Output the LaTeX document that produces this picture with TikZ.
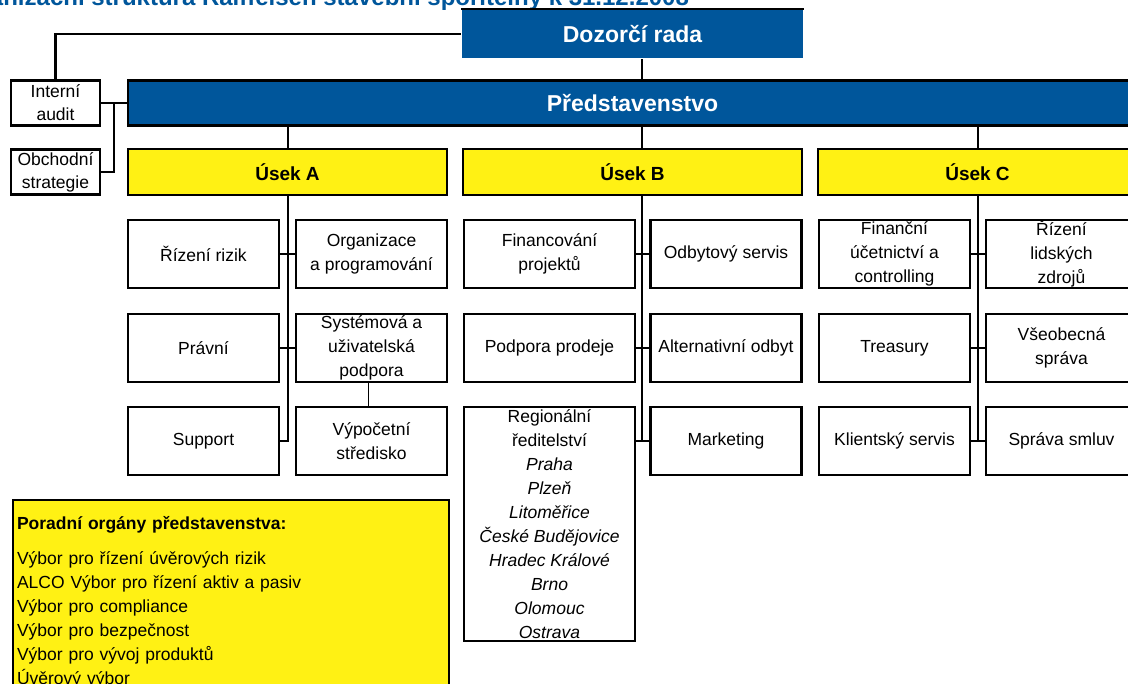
\documentclass[tikz,border=0pt]{standalone}
\usepackage{fontspec}
\setmainfont{Liberation Sans}
\usetikzlibrary{calc}
\definecolor{rsblue}{RGB}{0,86,155}
\definecolor{rsyellow}{RGB}{255,241,20}
\def\bodysize{\fontsize{17.5}{24}\selectfont}
\def\rowI{254}
\def\rowII{348}
\def\rowIII{441}
\begin{document}
\begin{tikzpicture}[x=1pt, y=-1pt, line width=2.1pt,
                    blueband/.style={fill=rsblue, text=white, inner sep=0pt,
                                     font=\bfseries\fontsize{23}{26}\selectfont},
                    usekbox/.style={draw, fill=rsyellow, inner sep=0pt,
                                    minimum width=319pt, minimum height=46pt,
                                    font=\bfseries\fontsize{19}{22}\selectfont},
                    unitbox/.style={draw, fill=white, inner sep=0pt,
                                    minimum width=151pt, minimum height=68pt,
                                    align=center, font=\bodysize},
                    sidebox/.style={draw, fill=white, inner sep=0pt,
                                    minimum width=89pt, minimum height=45pt,
                                    align=center, font=\fontsize{17.5}{23}\selectfont}
                   ]
\useasboundingbox (0,0) rectangle (1128,684);
\clip (0,0) rectangle (1128,684);

%title (cut at the top edge)
\node [anchor=base east, inner sep=0pt, text=rsblue,
       font=\bfseries\fontsize{24}{28}\selectfont] (title) at (690,6)
      {Organizační struktura Raiffeisen stavební spořitelny k 31.12.2008};

%boards
\node [blueband, minimum width=341pt, minimum height=48pt] (dozor) at (632.5,34) {Dozorčí rada};
\draw [line width=1.4pt] (dozor.north west) -- (dozor.north east);
\node [blueband, draw=black, minimum width=1009pt, minimum height=45pt] (board) at (632.5,103) {Představenstvo};
\node [sidebox] (audit) at (55.5,103) {Interní\\audit};
\node [sidebox] (strategy) at (55.5,172) {Obchodní\\strategie};

%sections
\node [usekbox] (usekA) at (287.5,172) {Úsek A};
\node [usekbox, minimum width=339pt] (usekB) at (632.5,172) {Úsek B};
\node [usekbox] (usekC) at (977.5,172) {Úsek C};

%units of section A
\node [unitbox] (riziko) at (203.5,\rowI) {Řízení rizik};
\node [unitbox] (organizace) at (371.5,\rowI) {Organizace\\a programování};
\node [unitbox] (pravni) at (203.5,\rowII) {Právní};
\node [unitbox] (systemova) at (371.5,\rowII) {Systémová a\\uživatelská\\podpora};
\node [unitbox] (support) at (203.5,\rowIII) {Support};
\node [unitbox] (vypocetni) at (371.5,\rowIII) {Výpočetní\\středisko};

%units of section B
\node [unitbox, minimum width=171pt] (financovani) at (549.5,\rowI) {Financování\\projektů};
\node [unitbox] (odbyt) at (726,\rowI) {Odbytový servis};
\node [unitbox, minimum width=171pt] (podpora) at (549.5,\rowII) {Podpora prodeje};
\node [unitbox] (alternativni) at (726,\rowII) {Alternativní odbyt};
\node [unitbox, minimum width=171pt, minimum height=234pt] (regional) at (549.5,524)
      {Regionální\\ředitelství\\\textit{Praha}\\\textit{Plzeň}\\\textit{Litoměřice}\\
       \textit{České Budějovice}\\\textit{Hradec Králové}\\\textit{Brno}\\
       \textit{Olomouc}\\\textit{Ostrava}};
\node [unitbox] (marketing) at (726,\rowIII) {Marketing};

%units of section C
\node [unitbox] (financni) at (894.5,\rowI) {Finanční\\účetnictví a\\controlling};
\node [unitbox] (lidske) at (1061.5,\rowI) {Řízení\\lidských\\zdrojů};
\node [unitbox] (treasury) at (894.5,\rowII) {Treasury};
\node [unitbox] (sprava) at (1061.5,\rowII) {Všeobecná\\správa};
\node [unitbox] (klient) at (894.5,\rowIII) {Klientský servis};
\node [unitbox] (smlouvy) at (1061.5,\rowIII) {Správa smluv};

%advisory bodies
\node [draw, fill=rsyellow, anchor=north west, text width=428pt, align=left,
       inner xsep=4pt, inner ysep=16pt, font=\bodysize] (advisory) at (12,499)
      {\textbf{Poradní orgány představenstva:}\\[11pt]
       Výbor pro řízení úvěrových rizik\\
       ALCO Výbor pro řízení aktiv a pasiv\\
       Výbor pro compliance\\
       Výbor pro bezpečnost\\
       Výbor pro vývoj produktů\\
       Úvěrový výbor};

%connectors
\coordinate (spineA) at (288,0);
\coordinate (spineB) at (642,0);
\coordinate (spineC) at (978,0);
\coordinate (split) at (114,0);

\draw (dozor.west) -| (audit.north);
\draw (board.west) -- (audit.east);
\draw (board.west -| split) |- (strategy.east);
\draw (dozor.south -| spineB) -- (board.north -| spineB);
\foreach \s in {A,B,C}{
    \draw (board.south -| spine\s) -- (usek\s.north -| spine\s);
}
%section A
\draw (usekA.south -| spineA) |- (support.east);
\draw (riziko.east) -- (organizace.west);
\draw (pravni.east) -- (systemova.west);
\draw [line width=1pt] (systemova.south -| 368,0) -- (vypocetni.north -| 368,0);
%section B
\draw (usekB.south -| spineB) -- (marketing.west -| spineB);
\draw (financovani.east) -- (odbyt.west);
\draw (podpora.east) -- (alternativni.west);
\draw (marketing.west) -- (marketing.west -| regional.east);
%section C
\draw (usekC.south -| spineC) -- (smlouvy.west -| spineC);
\draw (financni.east) -- (lidske.west);
\draw (treasury.east) -- (sprava.west);
\draw (klient.east) -- (smlouvy.west);
\end{tikzpicture}
\end{document}
